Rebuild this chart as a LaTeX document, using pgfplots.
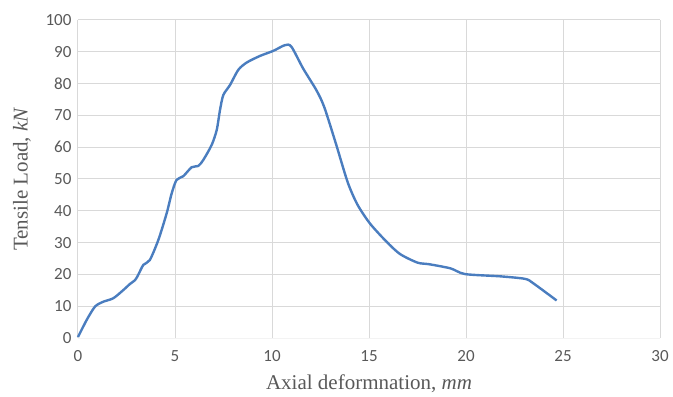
\documentclass[border=0pt]{standalone}
\usepackage{pgfplots}
\pgfplotsset{compat=1.18}
\usepackage{fontspec}
\setmainfont{Liberation Serif}
\newfontfamily\tickfont{Carlito}
\definecolor{linecol}{HTML}{4A7DBF}
\definecolor{gridcol}{HTML}{D9D9D9}
\definecolor{txtcol}{HTML}{595959}
\begin{document}
\begin{tikzpicture}
\begin{axis}[
  scale only axis,
  width=582pt, height=318pt,
  xmin=0, xmax=30, ymin=0, ymax=100,
  xtick={0,5,...,30}, ytick={0,10,...,100},
  grid=major,
  major grid style={gridcol, line width=1pt},
  axis line style={draw=none},
  tick style={draw=none},
  /pgf/number format/assume math mode=true,
  ticklabel style={font=\tickfont\fontsize{17}{17}\selectfont, text=txtcol},
  xticklabel style={yshift=-9pt},
  yticklabel style={xshift=-3pt},
  xlabel={Axial deformnation, \textit{mm}},
  ylabel={Tensile Load, \textit{kN}},
  label style={font=\fontsize{21}{21}\selectfont, text=txtcol},
  xlabel style={yshift=-6pt},
  ylabel style={yshift=8pt},
  clip=false,
]
\draw[gridcol!120!gray!60, line width=1pt] (axis cs:0,0) -- (axis cs:30,0);
\addplot[linecol, line width=2.4pt, smooth, tension=0.45] coordinates {
(0,0.3) (0.45,5.7) (0.88,9.9) (1.3,11.4) (1.82,12.5) (2.34,15.1) (2.68,17)
(2.94,18.2) (3.1,19.8) (3.37,23) (3.7,24.5) (4.14,30.8) (4.57,39.2)
(4.83,45.5) (5.08,49.7) (5.43,50.9) (5.86,53.7) (6.2,54.1) (6.46,56)
(6.89,60.7) (7.15,65.4) (7.32,71.7) (7.49,76.4) (7.84,79.6) (8.26,84.3)
(8.69,86.6) (9.38,88.7) (10.07,90.3) (10.67,92.1) (11.0,91.6) (11.6,84.8)
(12.3,77.8) (12.7,72.5) (13.3,61) (13.9,49) (14.4,42) (15.05,36)
(15.9,30.3) (16.6,26.4) (17.5,23.7) (18.1,23.2) (19.2,21.9) (19.95,20.1)
(21.75,19.4) (23.04,18.6) (23.47,17.2) (24.67,11.8)
};
\end{axis}
\path[use as bounding box] (current axis.south west) ++(-78pt,-58pt) rectangle ([shift={(13pt,20pt)}]current axis.north east);
\end{tikzpicture}
\end{document}
